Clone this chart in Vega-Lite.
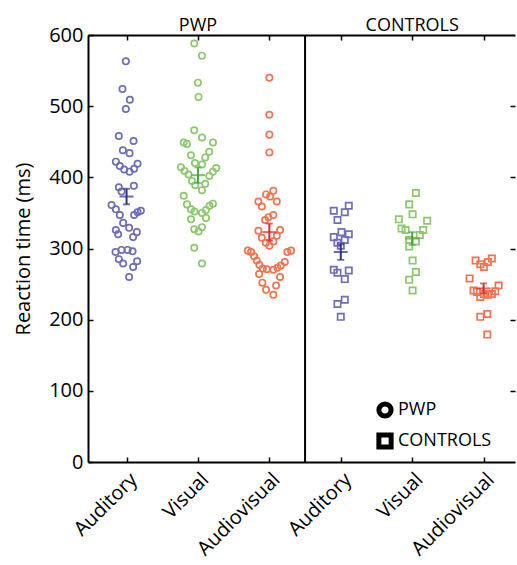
{
  "$schema": "https://vega.github.io/schema/vega-lite/v6.json",
  "width": 427,
  "height": 427,
  "autosize": {"type": "none"},
  "padding": {"left": 88, "top": 35, "right": 2, "bottom": 103},
  "background": "white",
  "config": {
    "view": {"stroke": null},
    "font": "Open Sans",
    "axis": {"grid": false, "domainColor": "black", "domainWidth": 2, "tickColor": "black", "tickWidth": 1.5, "labelColor": "black", "titleColor": "black", "labelFont": "Open Sans", "titleFont": "Open Sans"},
    "legend": {"symbolStrokeColor": "black", "symbolStrokeWidth": 5, "symbolFillColor": "white", "symbolOpacity": 1}
  },
  "datasets": {
    "points": [
      {"cohort":"PWP","condition":"Auditory","pos":0.99,"rt":563},
      {"cohort":"PWP","condition":"Auditory","pos":0.943,"rt":524},
      {"cohort":"PWP","condition":"Auditory","pos":1.046,"rt":509},
      {"cohort":"PWP","condition":"Auditory","pos":0.99,"rt":496},
      {"cohort":"PWP","condition":"Auditory","pos":0.892,"rt":458},
      {"cohort":"PWP","condition":"Auditory","pos":1.098,"rt":451},
      {"cohort":"PWP","condition":"Auditory","pos":0.948,"rt":438},
      {"cohort":"PWP","condition":"Auditory","pos":1.042,"rt":434},
      {"cohort":"PWP","condition":"Auditory","pos":0.85,"rt":422},
      {"cohort":"PWP","condition":"Auditory","pos":0.906,"rt":416},
      {"cohort":"PWP","condition":"Auditory","pos":0.966,"rt":411},
      {"cohort":"PWP","condition":"Auditory","pos":1.042,"rt":408},
      {"cohort":"PWP","condition":"Auditory","pos":1.106,"rt":412},
      {"cohort":"PWP","condition":"Auditory","pos":1.154,"rt":419},
      {"cohort":"PWP","condition":"Auditory","pos":0.892,"rt":386},
      {"cohort":"PWP","condition":"Auditory","pos":1.102,"rt":388},
      {"cohort":"PWP","condition":"Auditory","pos":0.93,"rt":380},
      {"cohort":"PWP","condition":"Auditory","pos":0.79,"rt":361},
      {"cohort":"PWP","condition":"Auditory","pos":0.85,"rt":355},
      {"cohort":"PWP","condition":"Auditory","pos":0.906,"rt":347},
      {"cohort":"PWP","condition":"Auditory","pos":1.106,"rt":347},
      {"cohort":"PWP","condition":"Auditory","pos":1.154,"rt":351},
      {"cohort":"PWP","condition":"Auditory","pos":1.2,"rt":353},
      {"cohort":"PWP","condition":"Auditory","pos":0.952,"rt":336},
      {"cohort":"PWP","condition":"Auditory","pos":1.036,"rt":329},
      {"cohort":"PWP","condition":"Auditory","pos":1.144,"rt":323},
      {"cohort":"PWP","condition":"Auditory","pos":0.85,"rt":326},
      {"cohort":"PWP","condition":"Auditory","pos":0.882,"rt":320},
      {"cohort":"PWP","condition":"Auditory","pos":1.092,"rt":316},
      {"cohort":"PWP","condition":"Auditory","pos":0.846,"rt":295},
      {"cohort":"PWP","condition":"Auditory","pos":0.93,"rt":298},
      {"cohort":"PWP","condition":"Auditory","pos":1.014,"rt":298},
      {"cohort":"PWP","condition":"Auditory","pos":1.084,"rt":296},
      {"cohort":"PWP","condition":"Auditory","pos":1.148,"rt":282},
      {"cohort":"PWP","condition":"Auditory","pos":0.892,"rt":285},
      {"cohort":"PWP","condition":"Auditory","pos":0.952,"rt":279},
      {"cohort":"PWP","condition":"Auditory","pos":1.092,"rt":274},
      {"cohort":"PWP","condition":"Auditory","pos":1.036,"rt":260},

      {"cohort":"PWP","condition":"Visual","pos":1.948,"rt":588},
      {"cohort":"PWP","condition":"Visual","pos":2.056,"rt":571},
      {"cohort":"PWP","condition":"Visual","pos":2.0,"rt":533},
      {"cohort":"PWP","condition":"Visual","pos":2.008,"rt":513},
      {"cohort":"PWP","condition":"Visual","pos":1.948,"rt":466},
      {"cohort":"PWP","condition":"Visual","pos":2.056,"rt":456},
      {"cohort":"PWP","condition":"Visual","pos":1.8,"rt":449},
      {"cohort":"PWP","condition":"Visual","pos":1.846,"rt":447},
      {"cohort":"PWP","condition":"Visual","pos":2.21,"rt":449},
      {"cohort":"PWP","condition":"Visual","pos":1.902,"rt":431},
      {"cohort":"PWP","condition":"Visual","pos":2.158,"rt":436},
      {"cohort":"PWP","condition":"Visual","pos":2.102,"rt":428},
      {"cohort":"PWP","condition":"Visual","pos":1.958,"rt":420},
      {"cohort":"PWP","condition":"Visual","pos":2.056,"rt":418},
      {"cohort":"PWP","condition":"Visual","pos":1.762,"rt":414},
      {"cohort":"PWP","condition":"Visual","pos":1.812,"rt":409},
      {"cohort":"PWP","condition":"Visual","pos":1.868,"rt":404},
      {"cohort":"PWP","condition":"Visual","pos":2.256,"rt":413},
      {"cohort":"PWP","condition":"Visual","pos":2.21,"rt":408},
      {"cohort":"PWP","condition":"Visual","pos":2.158,"rt":402},
      {"cohort":"PWP","condition":"Visual","pos":1.916,"rt":395},
      {"cohort":"PWP","condition":"Visual","pos":1.962,"rt":389},
      {"cohort":"PWP","condition":"Visual","pos":2.102,"rt":391},
      {"cohort":"PWP","condition":"Visual","pos":2.056,"rt":382},
      {"cohort":"PWP","condition":"Visual","pos":1.8,"rt":374},
      {"cohort":"PWP","condition":"Visual","pos":1.846,"rt":362},
      {"cohort":"PWP","condition":"Visual","pos":1.902,"rt":355},
      {"cohort":"PWP","condition":"Visual","pos":1.952,"rt":352},
      {"cohort":"PWP","condition":"Visual","pos":2.056,"rt":350},
      {"cohort":"PWP","condition":"Visual","pos":2.112,"rt":354},
      {"cohort":"PWP","condition":"Visual","pos":2.162,"rt":360},
      {"cohort":"PWP","condition":"Visual","pos":2.21,"rt":363},
      {"cohort":"PWP","condition":"Visual","pos":1.902,"rt":341},
      {"cohort":"PWP","condition":"Visual","pos":2.112,"rt":343},
      {"cohort":"PWP","condition":"Visual","pos":1.948,"rt":327},
      {"cohort":"PWP","condition":"Visual","pos":2.008,"rt":324},
      {"cohort":"PWP","condition":"Visual","pos":2.056,"rt":330},
      {"cohort":"PWP","condition":"Visual","pos":1.948,"rt":301},
      {"cohort":"PWP","condition":"Visual","pos":2.056,"rt":279},

      {"cohort":"PWP","condition":"Audiovisual","pos":3.0,"rt":540},
      {"cohort":"PWP","condition":"Audiovisual","pos":3.0,"rt":488},
      {"cohort":"PWP","condition":"Audiovisual","pos":3.0,"rt":460},
      {"cohort":"PWP","condition":"Audiovisual","pos":3.0,"rt":435},
      {"cohort":"PWP","condition":"Audiovisual","pos":3.056,"rt":381},
      {"cohort":"PWP","condition":"Audiovisual","pos":2.954,"rt":376},
      {"cohort":"PWP","condition":"Audiovisual","pos":3.01,"rt":373},
      {"cohort":"PWP","condition":"Audiovisual","pos":2.846,"rt":366},
      {"cohort":"PWP","condition":"Audiovisual","pos":3.104,"rt":366},
      {"cohort":"PWP","condition":"Audiovisual","pos":2.894,"rt":359},
      {"cohort":"PWP","condition":"Audiovisual","pos":2.986,"rt":344},
      {"cohort":"PWP","condition":"Audiovisual","pos":3.056,"rt":347},
      {"cohort":"PWP","condition":"Audiovisual","pos":2.94,"rt":340},
      {"cohort":"PWP","condition":"Audiovisual","pos":2.846,"rt":325},
      {"cohort":"PWP","condition":"Audiovisual","pos":3.15,"rt":326},
      {"cohort":"PWP","condition":"Audiovisual","pos":2.894,"rt":315},
      {"cohort":"PWP","condition":"Audiovisual","pos":3.104,"rt":318},
      {"cohort":"PWP","condition":"Audiovisual","pos":2.95,"rt":308},
      {"cohort":"PWP","condition":"Audiovisual","pos":3.0,"rt":304},
      {"cohort":"PWP","condition":"Audiovisual","pos":3.056,"rt":310},
      {"cohort":"PWP","condition":"Audiovisual","pos":2.698,"rt":297},
      {"cohort":"PWP","condition":"Audiovisual","pos":2.744,"rt":295},
      {"cohort":"PWP","condition":"Audiovisual","pos":2.786,"rt":289},
      {"cohort":"PWP","condition":"Audiovisual","pos":2.824,"rt":283},
      {"cohort":"PWP","condition":"Audiovisual","pos":2.86,"rt":277},
      {"cohort":"PWP","condition":"Audiovisual","pos":2.908,"rt":272},
      {"cohort":"PWP","condition":"Audiovisual","pos":2.964,"rt":271},
      {"cohort":"PWP","condition":"Audiovisual","pos":3.056,"rt":270},
      {"cohort":"PWP","condition":"Audiovisual","pos":3.112,"rt":273},
      {"cohort":"PWP","condition":"Audiovisual","pos":3.16,"rt":276},
      {"cohort":"PWP","condition":"Audiovisual","pos":3.216,"rt":281},
      {"cohort":"PWP","condition":"Audiovisual","pos":3.252,"rt":295},
      {"cohort":"PWP","condition":"Audiovisual","pos":3.304,"rt":297},
      {"cohort":"PWP","condition":"Audiovisual","pos":2.856,"rt":264},
      {"cohort":"PWP","condition":"Audiovisual","pos":3.15,"rt":260},
      {"cohort":"PWP","condition":"Audiovisual","pos":2.902,"rt":252},
      {"cohort":"PWP","condition":"Audiovisual","pos":3.094,"rt":248},
      {"cohort":"PWP","condition":"Audiovisual","pos":2.954,"rt":242},
      {"cohort":"PWP","condition":"Audiovisual","pos":3.056,"rt":235},

      {"cohort":"CONTROLS","condition":"Auditory","pos":3.902,"rt":353},
      {"cohort":"CONTROLS","condition":"Auditory","pos":4.056,"rt":351},
      {"cohort":"CONTROLS","condition":"Auditory","pos":4.112,"rt":360},
      {"cohort":"CONTROLS","condition":"Auditory","pos":3.954,"rt":340},
      {"cohort":"CONTROLS","condition":"Auditory","pos":3.902,"rt":316},
      {"cohort":"CONTROLS","condition":"Auditory","pos":4.01,"rt":323},
      {"cohort":"CONTROLS","condition":"Auditory","pos":4.112,"rt":320},
      {"cohort":"CONTROLS","condition":"Auditory","pos":3.954,"rt":308},
      {"cohort":"CONTROLS","condition":"Auditory","pos":4.056,"rt":312},
      {"cohort":"CONTROLS","condition":"Auditory","pos":4.0,"rt":304},
      {"cohort":"CONTROLS","condition":"Auditory","pos":3.902,"rt":270},
      {"cohort":"CONTROLS","condition":"Auditory","pos":3.954,"rt":266},
      {"cohort":"CONTROLS","condition":"Auditory","pos":4.112,"rt":269},
      {"cohort":"CONTROLS","condition":"Auditory","pos":4.056,"rt":257},
      {"cohort":"CONTROLS","condition":"Auditory","pos":3.954,"rt":222},
      {"cohort":"CONTROLS","condition":"Auditory","pos":4.056,"rt":228},
      {"cohort":"CONTROLS","condition":"Auditory","pos":4.0,"rt":204},

      {"cohort":"CONTROLS","condition":"Visual","pos":5.052,"rt":378},
      {"cohort":"CONTROLS","condition":"Visual","pos":4.958,"rt":362},
      {"cohort":"CONTROLS","condition":"Visual","pos":5.006,"rt":348},
      {"cohort":"CONTROLS","condition":"Visual","pos":4.814,"rt":341},
      {"cohort":"CONTROLS","condition":"Visual","pos":5.21,"rt":339},
      {"cohort":"CONTROLS","condition":"Visual","pos":4.852,"rt":328},
      {"cohort":"CONTROLS","condition":"Visual","pos":4.908,"rt":326},
      {"cohort":"CONTROLS","condition":"Visual","pos":5.154,"rt":326},
      {"cohort":"CONTROLS","condition":"Visual","pos":5.108,"rt":319},
      {"cohort":"CONTROLS","condition":"Visual","pos":4.958,"rt":312},
      {"cohort":"CONTROLS","condition":"Visual","pos":5.052,"rt":310},
      {"cohort":"CONTROLS","condition":"Visual","pos":4.958,"rt":303},
      {"cohort":"CONTROLS","condition":"Visual","pos":5.006,"rt":283},
      {"cohort":"CONTROLS","condition":"Visual","pos":5.052,"rt":267},
      {"cohort":"CONTROLS","condition":"Visual","pos":4.958,"rt":256},
      {"cohort":"CONTROLS","condition":"Visual","pos":5.006,"rt":241},

      {"cohort":"CONTROLS","condition":"Audiovisual","pos":5.888,"rt":283},
      {"cohort":"CONTROLS","condition":"Audiovisual","pos":5.954,"rt":278},
      {"cohort":"CONTROLS","condition":"Audiovisual","pos":6.004,"rt":274},
      {"cohort":"CONTROLS","condition":"Audiovisual","pos":6.06,"rt":281},
      {"cohort":"CONTROLS","condition":"Audiovisual","pos":6.116,"rt":286},
      {"cohort":"CONTROLS","condition":"Audiovisual","pos":5.804,"rt":258},
      {"cohort":"CONTROLS","condition":"Audiovisual","pos":5.86,"rt":241},
      {"cohort":"CONTROLS","condition":"Audiovisual","pos":5.906,"rt":239},
      {"cohort":"CONTROLS","condition":"Audiovisual","pos":5.954,"rt":232},
      {"cohort":"CONTROLS","condition":"Audiovisual","pos":6.004,"rt":236},
      {"cohort":"CONTROLS","condition":"Audiovisual","pos":6.06,"rt":235},
      {"cohort":"CONTROLS","condition":"Audiovisual","pos":6.116,"rt":236},
      {"cohort":"CONTROLS","condition":"Audiovisual","pos":6.164,"rt":240},
      {"cohort":"CONTROLS","condition":"Audiovisual","pos":6.21,"rt":248},
      {"cohort":"CONTROLS","condition":"Audiovisual","pos":5.954,"rt":204},
      {"cohort":"CONTROLS","condition":"Audiovisual","pos":6.052,"rt":208},
      {"cohort":"CONTROLS","condition":"Audiovisual","pos":6.052,"rt":179}
    ],
    "summary": [
      {"cohort":"PWP","condition":"Auditory","pos":1,"mean":373,"lo":362,"hi":384},
      {"cohort":"PWP","condition":"Visual","pos":2,"mean":403,"lo":392,"hi":414},
      {"cohort":"PWP","condition":"Audiovisual","pos":3,"mean":323,"lo":311,"hi":335},
      {"cohort":"CONTROLS","condition":"Auditory","pos":4,"mean":295,"lo":284,"hi":306},
      {"cohort":"CONTROLS","condition":"Visual","pos":5,"mean":314,"lo":305,"hi":323},
      {"cohort":"CONTROLS","condition":"Audiovisual","pos":6,"mean":244,"lo":237,"hi":251}
    ],
    "panels": [
      {"panel":"PWP","pos":2},
      {"panel":"CONTROLS","pos":5}
    ],
    "divider": [{"pos":3.5}]
  },
  "layer": [
    {
      "data": {"name": "points"},
      "mark": {"type": "point", "filled": false, "strokeWidth": 1.7, "opacity": 1, "size": 40},
      "encoding": {
        "x": {"field": "pos", "type": "quantitative", "scale": {"domain": [0.46, 6.44], "nice": false, "zero": false},
          "axis": {"orient": "bottom", "values": [1,2,3,4,5,6], "labelExpr": "datum.value % 3 == 1 ? 'Auditory' : (datum.value % 3 == 2 ? 'Visual' : 'Audiovisual')", "labelAngle": -45, "labelFontSize": 20, "title": null, "tickSize": -5, "labelPadding": 12, "labelFlush": false, "labelOverlap": false}},
        "y": {"field": "rt", "type": "quantitative", "scale": {"domain": [0, 600], "nice": false},
          "axis": {"orient": "left", "values": [0,100,200,300,400,500,600], "labelFontSize": 20, "title": "Reaction time (ms)", "titleFontSize": 20, "titleFontWeight": "normal", "tickSize": -5, "labelPadding": 10, "titlePadding": 15}},
        "color": {"field": "condition", "type": "nominal", "scale": {"domain": ["Auditory","Visual","Audiovisual"], "range": ["#6e6eba","#8cc86e","#f4734f"]}, "legend": null},
        "shape": {"field": "cohort", "type": "nominal", "scale": {"domain": ["PWP","CONTROLS"], "range": ["circle","square"]},
          "legend": {"orient": "none", "legendX": 288, "legendY": 366, "title": null, "labelFontSize": 18, "labelColor": "black", "labelFont": "Open Sans", "symbolSize": 150, "rowPadding": -3, "labelOffset": 4,
            "symbolStrokeColor": "black", "symbolStrokeWidth": 5, "symbolFillColor": "white", "symbolOpacity": 1}}
      }
    },
    {
      "data": {"name": "summary"},
      "mark": {"type": "rule", "strokeWidth": 2},
      "encoding": {
        "x": {"field": "pos", "type": "quantitative", "axis": null},
        "y": {"field": "lo", "type": "quantitative", "axis": null},
        "y2": {"field": "hi"},
        "color": {"field": "condition", "type": "nominal", "scale": {"domain": ["Auditory","Visual","Audiovisual"], "range": ["#2e3192","#45aa3a","#e3242b"]}, "legend": null}
      }
    },
    {
      "data": {"name": "summary"},
      "mark": {"type": "tick", "orient": "horizontal", "size": 14, "thickness": 2},
      "encoding": {
        "x": {"field": "pos", "type": "quantitative", "axis": null},
        "y": {"field": "mean", "type": "quantitative", "axis": null},
        "color": {"field": "condition", "type": "nominal", "scale": {"domain": ["Auditory","Visual","Audiovisual"], "range": ["#2e3192","#45aa3a","#e3242b"]}, "legend": null}
      }
    },
    {
      "data": {"name": "summary"},
      "mark": {"type": "tick", "orient": "horizontal", "size": 7, "thickness": 1.8},
      "encoding": {
        "x": {"field": "pos", "type": "quantitative", "axis": null},
        "y": {"field": "lo", "type": "quantitative", "axis": null},
        "color": {"field": "condition", "type": "nominal", "scale": {"domain": ["Auditory","Visual","Audiovisual"], "range": ["#2e3192","#45aa3a","#e3242b"]}, "legend": null}
      }
    },
    {
      "data": {"name": "summary"},
      "mark": {"type": "tick", "orient": "horizontal", "size": 7, "thickness": 1.8},
      "encoding": {
        "x": {"field": "pos", "type": "quantitative", "axis": null},
        "y": {"field": "hi", "type": "quantitative", "axis": null},
        "color": {"field": "condition", "type": "nominal", "scale": {"domain": ["Auditory","Visual","Audiovisual"], "range": ["#2e3192","#45aa3a","#e3242b"]}, "legend": null}
      }
    },
    {
      "data": {"name": "divider"},
      "mark": {"type": "rule", "color": "black", "strokeWidth": 2},
      "encoding": {
        "x": {"field": "pos", "type": "quantitative", "axis": null}
      }
    },
    {
      "data": {"name": "panels"},
      "mark": {"type": "text", "fontSize": 18, "font": "Open Sans", "color": "black", "dy": -4, "baseline": "alphabetic"},
      "encoding": {
        "x": {"field": "pos", "type": "quantitative",
          "axis": {"orient": "top", "values": [1,2,3,4,5,6], "labels": false, "title": null, "tickSize": -5, "domain": true}},
        "y": {"datum": 600, "type": "quantitative",
          "axis": {"orient": "right", "values": [100,200,300,400,500], "labels": false, "title": null, "tickSize": -5, "domain": false}},
        "text": {"field": "panel", "type": "nominal"}
      }
    }
  ],
  "resolve": {"scale": {"color": "independent"}, "axis": {"x": "independent", "y": "independent"}}
}
